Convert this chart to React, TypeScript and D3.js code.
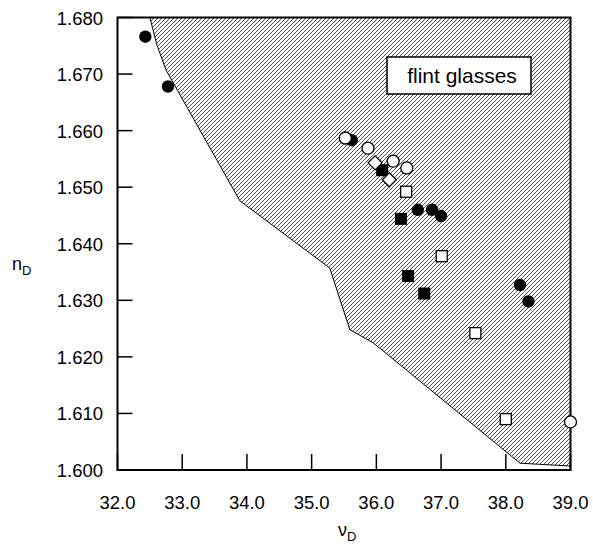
import React from "react";
import * as d3 from "d3";

// region of flint glasses (nu_D, n_D) boundary
const regionNu = [32.5, 32.61, 32.75, 33.89, 35.28, 35.59, 35.95, 38.22, 39.0, 39.0];
const regionN = [1.68, 1.6751, 1.6707, 1.6476, 1.6357, 1.6248, 1.6225, 1.6012, 1.6007, 1.68];

const filledCircleNu = [32.43, 32.78, 35.62, 36.64, 36.86, 37.0, 38.22, 38.35];
const filledCircleN = [1.6766, 1.6678, 1.6583, 1.646, 1.646, 1.6449, 1.6327, 1.6298];

const openCircleNu = [35.52, 35.87, 36.26, 36.47, 39.0];
const openCircleN = [1.6587, 1.6569, 1.6546, 1.6534, 1.6085];

const filledSquareNu = [36.09, 36.38, 36.49, 36.74];
const filledSquareN = [1.653, 1.6444, 1.6343, 1.6312];

const openSquareNu = [36.46, 37.01, 37.53, 38.0];
const openSquareN = [1.6492, 1.6378, 1.6242, 1.609];

const openDiamondNu = [35.98, 36.2];
const openDiamondN = [1.6543, 1.6513];

const xTicks = [32, 33, 34, 35, 36, 37, 38, 39];
const yTicks = [1.6, 1.61, 1.62, 1.63, 1.64, 1.65, 1.66, 1.67, 1.68];

const W = 593;
const H = 545;
const left = 117.5;
const right = 570.5;
const top = 17.5;
const bottom = 470;

const font = "'Liberation Sans', Arial, sans-serif";

export default function App() {
  const x = d3.scaleLinear().domain([32, 39]).range([left, right]);
  const y = d3.scaleLinear().domain([1.6, 1.68]).range([bottom, top]);

  const line = d3
    .line<number>()
    .x((d, i) => x(regionNu[i]))
    .y((d, i) => y(regionN[i]));
  const regionPath = line(regionNu) + "Z";

  const pts = (nu: number[], n: number[]) => nu.map((v, i) => [x(v), y(n[i])]);

  return (
    <svg
      width={W}
      height={H}
      style={{ position: "absolute", left: 0, top: 0, background: "#fff" }}
    >
      <defs>
        <pattern id="hatch" patternUnits="userSpaceOnUse" width={4} height={4}>
          <path
            d="M-1,1 l2,-2 M0,4 l4,-4 M3,5 l2,-2"
            stroke="#111"
            strokeWidth={0.75}
          />
        </pattern>
      </defs>

      <path d={regionPath} fill="url(#hatch)" stroke="#000" strokeWidth={1} />

      {/* legend box */}
      <rect x={387} y={57} width={144} height={37} fill="#fff" stroke="#000" strokeWidth={1.5} />
      <text x={462} y={83} textAnchor="middle" fontFamily={font} fontSize={21}>
        flint glasses
      </text>

      {/* frame */}
      <rect
        x={left}
        y={top}
        width={right - left}
        height={bottom - top}
        fill="none"
        stroke="#000"
        strokeWidth={2}
      />

      {xTicks.map((t) => (
        <g key={"x" + t}>
          <line x1={x(t)} x2={x(t)} y1={bottom} y2={bottom - 16} stroke="#000" strokeWidth={1.5} />
          <text x={x(t)} y={509} textAnchor="middle" fontFamily={font} fontSize={18.5}>
            {t.toFixed(1)}
          </text>
        </g>
      ))}
      {yTicks.map((t) => (
        <g key={"y" + t}>
          <line x1={left} x2={left + 15} y1={y(t)} y2={y(t)} stroke="#000" strokeWidth={1.5} />
          <text x={103} y={y(t) + 7} textAnchor="end" fontFamily={font} fontSize={18.5}>
            {t.toFixed(3)}
          </text>
        </g>
      ))}

      {/* axis titles */}
      <text x={338} y={536} fontFamily={font} fontSize={18}>
        ν<tspan fontSize={13} dy={5}>D</tspan>
      </text>
      <text x={12} y={270} fontFamily={font} fontSize={18}>
        n<tspan fontSize={13} dy={5}>D</tspan>
      </text>

      {/* markers */}
      {pts(filledCircleNu, filledCircleN).map(([cx, cy], i) => (
        <circle key={"fc" + i} cx={cx} cy={cy} r={6.2} fill="#000" />
      ))}
      {pts(openCircleNu, openCircleN).map(([cx, cy], i) => (
        <circle key={"oc" + i} cx={cx} cy={cy} r={6} fill="#fff" stroke="#000" strokeWidth={1.3} />
      ))}
      {pts(filledSquareNu, filledSquareN).map(([cx, cy], i) => (
        <rect key={"fs" + i} x={cx - 6} y={cy - 6} width={12} height={12} fill="#000" />
      ))}
      {pts(openSquareNu, openSquareN).map(([cx, cy], i) => (
        <rect
          key={"os" + i}
          x={cx - 5.5}
          y={cy - 5.5}
          width={11}
          height={11}
          fill="#fff"
          stroke="#000"
          strokeWidth={1.3}
        />
      ))}
      {pts(openDiamondNu, openDiamondN).map(([cx, cy], i) => (
        <path
          key={"od" + i}
          d={`M${cx},${cy - 7} L${cx + 7},${cy} L${cx},${cy + 7} L${cx - 7},${cy} Z`}
          fill="#fff"
          stroke="#000"
          strokeWidth={1.3}
        />
      ))}
    </svg>
  );
}
